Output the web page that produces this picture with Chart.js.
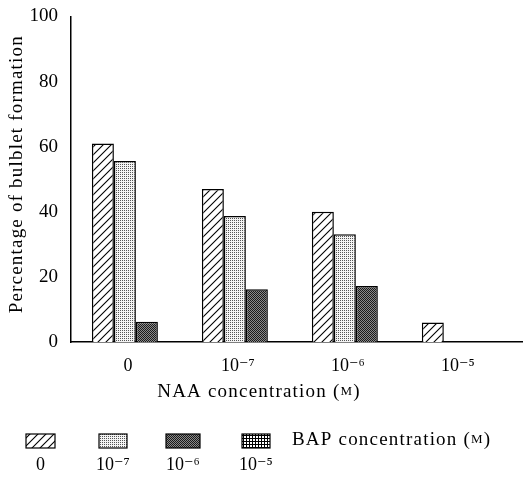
<!DOCTYPE html>
<html>
<head>
<meta charset="utf-8">
<script src="https://cdn.jsdelivr.net/npm/chart.js@4"></script>
<style>
  body { margin: 0; background: #fff; }
  #wrap { width: 523px; height: 479px; }
</style>
</head>
<body>
<div id="wrap"><canvas id="chart"></canvas></div>
<script>
// NAA concentration groups on the x axis
const naaLabels = ["0", "10⁻⁷", "10⁻⁶", "10⁻⁵"];
// BAP concentration series (legend)
const bapLabels = ["0", "10⁻⁷", "10⁻⁶", "10⁻⁵"];
const bap0 = [61, 47, 40, 6];
const bap7 = [55.6, 38.7, 33.1, 0];
const bap6 = [6.2, 16.2, 17.2, 0];
const bap5 = [0, 0, 0, 0];
const yTicks = [0, 20, 40, 60, 80, 100];

const SERIF = '"Liberation Serif", "DejaVu Serif", serif';

function makePattern(kind) {
  const c = document.createElement("canvas");
  const g = c.getContext("2d");
  if (kind === "hatch") {
    c.width = c.height = 8;
    g.fillStyle = "#fff";
    g.fillRect(0, 0, 8, 8);
    g.strokeStyle = "#000";
    g.lineWidth = 1.1;
    g.beginPath();
    g.moveTo(0, 8); g.lineTo(8, 0);
    g.moveTo(-4, 4); g.lineTo(4, -4);
    g.moveTo(4, 12); g.lineTo(12, 4);
    g.stroke();
  } else if (kind === "dots") {
    c.width = c.height = 2;
    g.fillStyle = "#f4f4f4";
    g.fillRect(0, 0, 2, 2);
    g.fillStyle = "#555";
    g.fillRect(0, 0, 1, 1);
  } else if (kind === "dark") {
    c.width = c.height = 2;
    g.fillStyle = "#8a8a8a";
    g.fillRect(0, 0, 2, 2);
    g.fillStyle = "#1a1a1a";
    g.fillRect(0, 0, 1, 1);
    g.fillRect(1, 1, 1, 1);
  } else {
    c.width = c.height = 3;
    g.fillStyle = "#fff";
    g.fillRect(0, 0, 3, 3);
    g.fillStyle = "#000";
    g.fillRect(0, 0, 3, 1);
    g.fillRect(0, 0, 1, 3);
  }
  return g.createPattern(c, "repeat");
}

const fills = [makePattern("hatch"), makePattern("dots"), makePattern("dark"), makePattern("grid")];
const series = [bap0, bap7, bap6, bap5];

// titles and the custom legend with labels under the swatches
const annotate = {
  id: "annotate",
  afterDraw(chart) {
    const ctx = chart.ctx;
    const area = chart.chartArea;
    ctx.save();
    ctx.fillStyle = "#000";
    ctx.textBaseline = "middle";
    ctx.letterSpacing = "1.2px";

    // y title
    ctx.font = "19px " + SERIF;
    ctx.save();
    ctx.translate(17, (area.top + area.bottom) / 2 - 5);
    ctx.rotate(-Math.PI / 2);
    ctx.textAlign = "center";
    ctx.fillText("Percentage of bulblet formation", 0, 0);
    ctx.restore();

    // x title with small capital M
    function unitText(parts, x, y) {
      let cx = x;
      parts.forEach(([t, size]) => {
        ctx.font = size + "px " + SERIF;
        ctx.fillText(t, cx, y);
        cx += ctx.measureText(t).width;
      });
    }
    function unitWidth(parts) {
      let w = 0;
      parts.forEach(([t, size]) => {
        ctx.font = size + "px " + SERIF;
        w += ctx.measureText(t).width;
      });
      return w;
    }
    ctx.textAlign = "left";
    const xt = [["NAA concentration (", 19], ["M", 13], [")", 19]];
    unitText(xt, 259 - unitWidth(xt) / 2, area.bottom + 50);

    // legend
    const boxes = [[26, 29], [99, 28], [166, 34], [242, 28]];
    const by = area.bottom + 92;
    ctx.letterSpacing = "0px";
    boxes.forEach(([bx, bw], i) => {
      ctx.fillStyle = fills[i];
      ctx.fillRect(bx, by, bw, 14);
      ctx.strokeStyle = "#000";
      ctx.lineWidth = 1.2;
      ctx.strokeRect(bx, by, bw, 14);
      ctx.fillStyle = "#000";
      ctx.font = "18px " + SERIF;
      ctx.textAlign = "center";
      ctx.fillText(bapLabels[i], bx + bw / 2, by + 31);
    });
    ctx.textAlign = "left";
    ctx.letterSpacing = "1.2px";
    unitText([["BAP concentration (", 19], ["M", 13], [")", 19]], 292, by + 6);
    ctx.restore();
  }
};

new Chart(document.getElementById("chart"), {
  type: "bar",
  data: {
    datasets: series.map((d, i) => ({
      label: bapLabels[i],
      data: d.map((v, k) => ({ x: k, y: v })),
      backgroundColor: fills[i],
      borderColor: "#000",
      borderWidth: 1.5,
      borderSkipped: "bottom",
    })),
  },
  options: {
    responsive: true,
    maintainAspectRatio: false,
    animation: false,
    events: [],
    layout: { padding: { top: 6, right: 0, left: 0, bottom: 0 } },
    datasets: { bar: { categoryPercentage: 0.8, barPercentage: 1 } },
    plugins: { legend: { display: false }, tooltip: { enabled: false } },
    scales: {
      x: {
        type: "linear",
        offset: false,
        min: -0.59,
        max: 3.52,
        afterBuildTicks: (s) => { s.ticks = naaLabels.map((_, k) => ({ value: k })); },
        grid: { display: false },
        border: { display: true, color: "#000", width: 1.5 },
        ticks: {
          color: "#000",
          font: { family: SERIF, size: 18 },
          padding: 5,
          maxRotation: 0,
          labelOffset: -8,
          callback: (v) => naaLabels[v],
        },
        afterFit: (s) => { s.height = 137; },
      },
      y: {
        min: 0,
        max: 100,
        afterBuildTicks: (s) => { s.ticks = yTicks.map((v) => ({ value: v })); },
        grid: { display: false },
        border: { display: true, color: "#000", width: 1.5 },
        ticks: { color: "#000", font: { family: SERIF, size: 19 }, padding: 5 },
        afterFit: (s) => { s.width = 71; },
      },
    },
  },
  plugins: [annotate],
});
</script>
</body>
</html>
